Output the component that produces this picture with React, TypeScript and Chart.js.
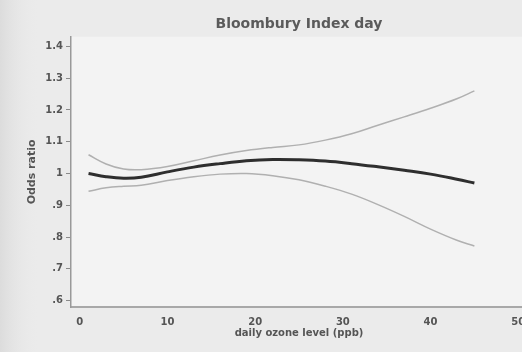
import React, { useEffect, useRef } from "react";
import { Chart, registerables } from "chart.js";

Chart.register(...registerables);

const xValues = [1, 3, 5, 7, 10, 13, 16, 19, 22, 25, 28, 31, 34, 37, 40, 43, 45];
const oddsRatio = [1.0, 0.99, 0.985, 0.988, 1.005, 1.02, 1.031, 1.04, 1.044, 1.043, 1.039, 1.031, 1.021, 1.01, 0.998, 0.982, 0.97];
const upperCI = [1.059, 1.03, 1.014, 1.012, 1.022, 1.04, 1.058, 1.072, 1.082, 1.09, 1.105, 1.125, 1.152, 1.178, 1.205, 1.235, 1.26];
const lowerCI = [0.944, 0.955, 0.96, 0.963, 0.978, 0.99, 0.998, 1.0, 0.993, 0.98, 0.96, 0.935, 0.902, 0.865, 0.825, 0.79, 0.772];

const xTickValues = [0, 10, 20, 30, 40, 50];
const yTickValues = [0.6, 0.7, 0.8, 0.9, 1.0, 1.1, 1.2, 1.3, 1.4];
const yTickLabels = [".6", ".7", ".8", ".9", "1", "1.1", "1.2", "1.3", "1.4"];

const titleText = "Bloombury Index day";
const xTitle = "daily ozone level (ppb)";
const yTitle = "Odds ratio";

const toPoints = (ys: number[]) => xValues.map((x, i) => ({ x, y: ys[i] }));

const bgPlugin = {
  id: "bgPlugin",
  beforeDraw(chart: any) {
    const { ctx, chartArea, width, height } = chart;
    ctx.save();
    ctx.fillStyle = "#ebebeb";
    ctx.fillRect(0, 0, width, height);
    const g = ctx.createLinearGradient(0, 0, 40, 0);
    g.addColorStop(0, "#dcdcdc");
    g.addColorStop(1, "rgba(235,235,235,0)");
    ctx.fillStyle = g;
    ctx.fillRect(0, 0, 40, height);
    ctx.fillStyle = "#f3f3f3";
    ctx.fillRect(chartArea.left, chartArea.top, chartArea.right - chartArea.left, chartArea.bottom - chartArea.top);
    ctx.restore();
  },
};

export default function App() {
  const ref = useRef<HTMLCanvasElement | null>(null);

  useEffect(() => {
    if (!ref.current) return;
    const font = "'DejaVu Sans', Arial, sans-serif";
    const chart = new Chart(ref.current, {
      type: "line",
      data: {
        datasets: [
          {
            data: toPoints(upperCI),
            borderColor: "#b0b0b0",
            borderWidth: 1.5,
            pointRadius: 0,
            tension: 0.4,
            fill: false,
          },
          {
            data: toPoints(lowerCI),
            borderColor: "#b0b0b0",
            borderWidth: 1.5,
            pointRadius: 0,
            tension: 0.4,
            fill: false,
          },
          {
            data: toPoints(oddsRatio),
            borderColor: "#2e2e2e",
            borderWidth: 3,
            pointRadius: 0,
            tension: 0.4,
            fill: false,
          },
        ],
      },
      options: {
        animation: false,
        responsive: false,
        devicePixelRatio: 1,
        layout: { padding: { left: 0, right: 13, top: 0, bottom: 0 } },
        plugins: {
          legend: { display: false },
          tooltip: { enabled: false },
          title: {
            display: true,
            text: titleText,
            fullSize: false,
            color: "#5a5a5a",
            font: { family: font, size: 14, weight: "bold" },
            padding: { top: 16, bottom: 4 },
          },
        },
        scales: {
          x: {
            type: "linear",
            min: -1,
            max: 51,
            afterBuildTicks: (scale: any) => {
              scale.ticks = xTickValues.map((v) => ({ value: v }));
            },
            afterFit: (scale: any) => {
              scale.height = 45;
            },
            grid: { display: false, drawTicks: false },
            border: { display: true, color: "#a8a8a8", width: 2 },
            ticks: {
              color: "#555",
              font: { family: font, size: 10, weight: "bold" },
              padding: 9,
              maxRotation: 0,
            },
            title: {
              display: true,
              text: xTitle,
              color: "#555",
              font: { family: font, size: 10, weight: "bold" },
              padding: { top: 0, bottom: 13 },
            },
          },
          y: {
            type: "linear",
            min: 0.58,
            max: 1.43,
            afterBuildTicks: (scale: any) => {
              scale.ticks = yTickValues.map((v) => ({ value: v }));
            },
            afterFit: (scale: any) => {
              scale.width = 71;
            },
            grid: {
              display: true,
              drawOnChartArea: false,
              drawTicks: true,
              tickLength: 5,
              color: "#8a8a8a",
            },
            border: { display: true, color: "#999", width: 1.5 },
            ticks: {
              color: "#555",
              font: { family: font, size: 10, weight: "bold" },
              padding: 3,
              callback: (value: any) => {
                const i = yTickValues.findIndex((v) => Math.abs(v - Number(value)) < 1e-6);
                return i >= 0 ? yTickLabels[i] : "";
              },
            },
            title: {
              display: true,
              text: yTitle,
              color: "#555",
              font: { family: font, size: 11, weight: "bold" },
              padding: { top: 26, bottom: 0 },
            },
          },
        },
      },
      plugins: [bgPlugin],
    });
    return () => chart.destroy();
  }, []);

  return (
    <div
      style={{
        position: "absolute",
        left: 0,
        top: 0,
        width: 522,
        height: 352,
        overflow: "hidden",
        background: "#ebebeb",
      }}
    >
      <canvas ref={ref} width={540} height={352} style={{ width: 540, height: 352, display: "block" }} />
    </div>
  );
}
